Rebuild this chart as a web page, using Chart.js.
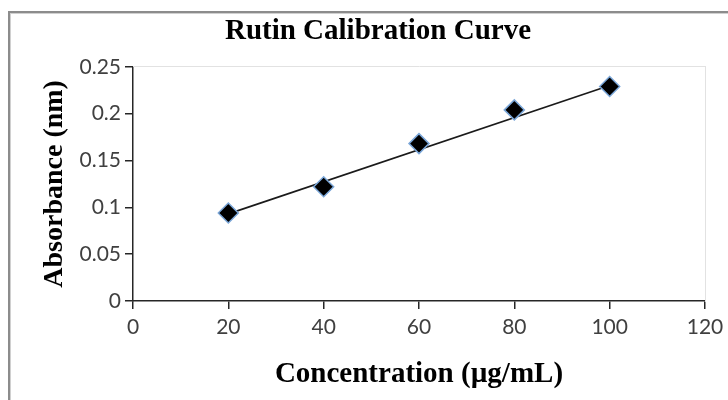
<!DOCTYPE html>
<html>
<head>
<meta charset="utf-8">
<script src="https://cdn.jsdelivr.net/npm/chart.js@4/dist/chart.umd.min.js"></script>
<style>
  html, body { margin: 0; padding: 0; background: #ffffff; }
  #wrap { position: relative; width: 728px; height: 400px; overflow: hidden; }
  #frame { position: absolute; left: 8px; top: 11px; width: 760px; height: 420px;
           border-left: 2px solid #8c8c8c; border-top: 2px solid #8c8c8c;
           box-shadow: inset 1px 1px 0 #d0d0d0; z-index: 0; }
  #c { position: absolute; left: 0; top: 0; z-index: 1; }
</style>
</head>
<body>
<div id="wrap">
  <div id="frame"></div>
  <canvas id="c" width="728" height="400"></canvas>
</div>
<script>
// ---- data ----
const concentrations = [20, 40, 60, 80, 100];
const absorbances = [0.094, 0.122, 0.168, 0.204, 0.229];
const trendX = [20, 100];
const trendY = [0.093, 0.230];
const xTickValues = [0, 20, 40, 60, 80, 100, 120];
const yTickValues = [0, 0.05, 0.1, 0.15, 0.2, 0.25];
const yTickLabels = ['0', '0.05', '0.1', '0.15', '0.2', '0.25'];
const chartTitle = 'Rutin Calibration Curve';
const xTitle = 'Concentration (µg/mL)';
const yTitle = 'Absorbance (nm)';

const pointData = concentrations.map((x, i) => ({ x: x, y: absorbances[i] }));
const trendData = trendX.map((x, i) => ({ x: x, y: trendY[i] }));

const axisColor = '#262626';
const tickFont = { family: 'Lato', size: 21 };
const serifBold = (s) => ({ family: '"Liberation Serif", "Times New Roman", serif', size: s, weight: 'bold' });

new Chart(document.getElementById('c'), {
  type: 'scatter',
  data: {
    datasets: [
      {
        label: 'Trend',
        data: trendData,
        showLine: true,
        borderColor: '#1a1a1a',
        borderWidth: 1.6,
        pointRadius: 0,
        pointHoverRadius: 0,
        fill: false,
        order: 2
      },
      {
        label: 'Absorbance',
        data: pointData,
        showLine: false,
        pointStyle: 'rectRot',
        pointRadius: 10,
        pointHoverRadius: 10,
        backgroundColor: '#000000',
        borderColor: '#7aa6d8',
        borderWidth: 1.5,
        clip: false,
        order: 1
      }
    ]
  },
  options: {
    responsive: false,
    animation: false,
    devicePixelRatio: 1,
    layout: { padding: { left: 28, right: 0, top: 0, bottom: 0 } },
    plugins: {
      legend: { display: false },
      tooltip: { enabled: false },
      title: {
        display: true,
        text: chartTitle,
        color: '#000000',
        font: serifBold(29),
        padding: { top: 14, bottom: 18 }
      }
    },
    scales: {
      x: {
        type: 'linear',
        position: 'bottom',
        min: 0,
        max: 120,
        afterBuildTicks: (s) => { s.ticks = xTickValues.map(v => ({ value: v })); },
        afterFit: (s) => { s.height = 99; s.paddingRight = 23; s.paddingLeft = 0; },
        ticks: {
          color: '#404040',
          font: tickFont,
          padding: 6,
          maxRotation: 0,
          callback: (v) => String(v)
        },
        grid: { drawOnChartArea: false, drawTicks: true, tickLength: 8, color: axisColor, lineWidth: 1.5 },
        border: { display: true, color: axisColor, width: 1.5 },
        title: {
          display: true,
          text: xTitle,
          color: '#000000',
          font: serifBold(29),
          padding: { top: 0, bottom: 8 }
        }
      },
      y: {
        type: 'linear',
        position: 'left',
        min: 0,
        max: 0.25,
        afterBuildTicks: (s) => { s.ticks = yTickValues.map(v => ({ value: v })); },
        afterFit: (s) => { s.width = 105; s.paddingTop = 0; s.paddingBottom = 0; },
        ticks: {
          color: '#404040',
          font: tickFont,
          padding: 4,
          callback: (v) => {
            const i = yTickValues.findIndex(t => Math.abs(t - v) < 1e-9);
            return i >= 0 ? yTickLabels[i] : '';
          }
        },
        grid: { drawOnChartArea: false, drawTicks: true, tickLength: 8, color: axisColor, lineWidth: 1.5 },
        border: { display: true, color: axisColor, width: 1.5 },
        title: {
          display: true,
          text: yTitle,
          color: '#000000',
          font: serifBold(28),
          padding: { top: 10, bottom: 0 }
        }
      },
      x2: {
        type: 'linear',
        position: 'top',
        min: 0,
        max: 120,
        afterFit: (s) => { s.height = 0; s.paddingLeft = 0; s.paddingRight = 0; },
        ticks: { display: false },
        grid: { drawOnChartArea: false, drawTicks: false },
        border: { display: true, color: '#e2e2e2', width: 1 }
      },
      y2: {
        type: 'linear',
        position: 'right',
        min: 0,
        max: 0.25,
        afterFit: (s) => { s.width = 0; s.paddingTop = 0; s.paddingBottom = 0; },
        ticks: { display: false },
        grid: { drawOnChartArea: false, drawTicks: false },
        border: { display: true, color: '#e2e2e2', width: 1 }
      }
    }
  }
});
</script>
</body>
</html>
